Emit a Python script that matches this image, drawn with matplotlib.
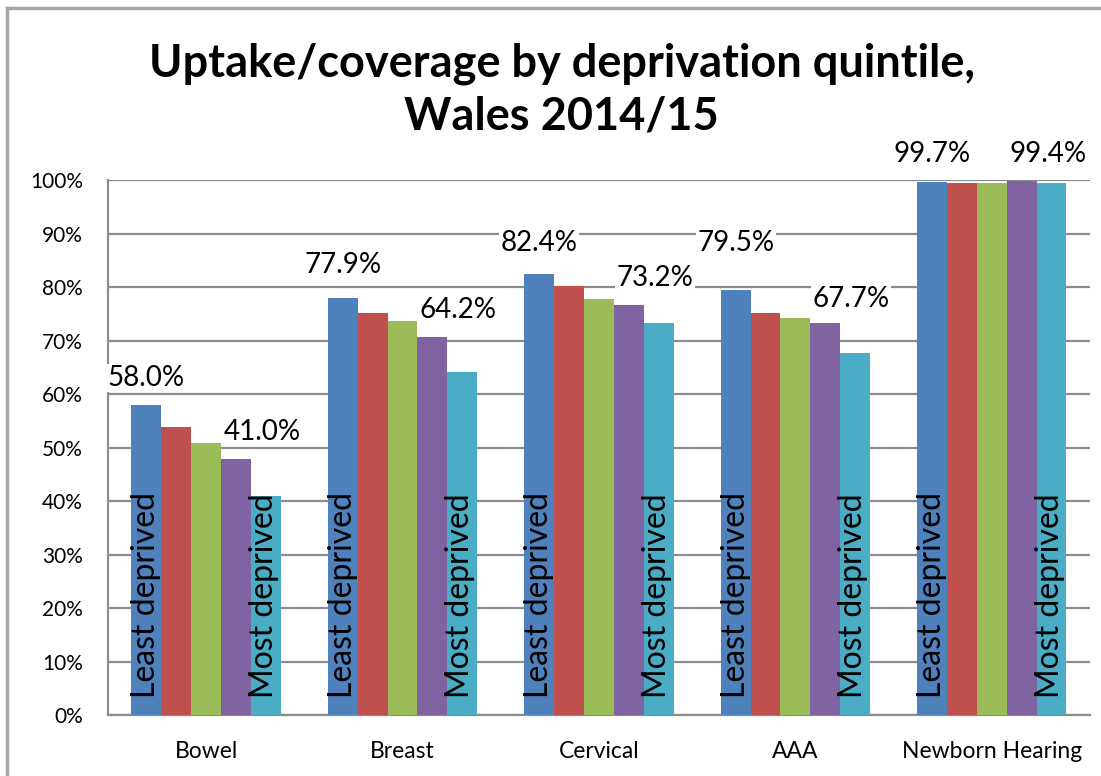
import numpy as np
import matplotlib.pyplot as plt
from matplotlib.lines import Line2D

plt.rcParams['font.family'] = ['Lato', 'DejaVu Sans']

categories = ['Bowel', 'Breast', 'Cervical', 'AAA', 'Newborn Hearing']
quintiles = ['Least deprived', 'Q2', 'Q3', 'Q4', 'Most deprived']
colors = ['#4F81BD', '#C0504D', '#9BBB59', '#8064A2', '#4BACC6']

# uptake (%) per quintile, one list per quintile across the 5 programmes
q1 = [58.0, 77.9, 82.4, 79.5, 99.7]
q2 = [53.8, 75.1, 80.1, 75.1, 99.5]
q3 = [50.8, 73.6, 77.8, 74.3, 99.5]
q4 = [47.9, 70.6, 76.6, 73.3, 99.8]
q5 = [41.0, 64.2, 73.2, 67.7, 99.4]
values = [q1, q2, q3, q4, q5]

# offsets of the value labels above the bars (percentage points)
off_least = [5.0, 6.2, 5.8, 8.8, 5.2]
off_most = [11.9, 11.5, 8.5, 10.1, 5.5]

fig = plt.figure(figsize=(11.01, 7.76), dpi=100)
ax = fig.add_axes([0.098, 0.0786, 0.892, 0.6894])

x = np.arange(len(categories))
w = 0.152
for i, vals in enumerate(values):
    ax.bar(x + (i - 2) * w, vals, width=w, color=colors[i], zorder=3)

# rotated labels inside first and last bar
for j in range(len(categories)):
    ax.text(x[j] - 2 * w, 3.2, 'Least deprived', rotation=90, ha='center', va='bottom',
            fontsize=23, color='black', zorder=4)
    ax.text(x[j] + 2 * w - 0.01, 3.2, 'Most deprived', rotation=90, ha='center', va='bottom',
            fontsize=23, color='black', zorder=4)
    ax.text(x[j] - 2 * w, q1[j] + off_least[j], f'{q1[j]:.1f}%', ha='center', va='center',
            fontsize=20, zorder=5, clip_on=False,
            bbox=dict(facecolor='white', edgecolor='none', pad=1))
    ax.text(x[j] + 2 * w - 0.02, q5[j] + off_most[j], f'{q5[j]:.1f}%', ha='center', va='center',
            fontsize=20, zorder=5, clip_on=False,
            bbox=dict(facecolor='white', edgecolor='none', pad=1))

ax.set_xlim(-0.5, 4.5)
ax.set_ylim(0, 100)
ax.set_yticks(np.arange(0, 101, 10))
ax.set_yticklabels([f'{v}%' for v in range(0, 101, 10)], fontsize=15)
ax.set_xticks(x)
ax.set_xticklabels(categories, fontsize=16.5)
ax.tick_params(length=0, pad=19, axis='x')
ax.tick_params(length=0, pad=18, axis='y')
ax.grid(axis='y', color='#8C8C8C', linewidth=1.6, zorder=0)
for s in ['top', 'right']:
    ax.spines[s].set_visible(False)
for s in ['left', 'bottom']:
    ax.spines[s].set_color('#8C8C8C')
    ax.spines[s].set_linewidth(1.6)

fig.text(0.51, 0.884, 'Uptake/coverage by deprivation quintile,\nWales 2014/15',
         ha='center', va='center', fontsize=32.5, fontweight='bold', linespacing=1.3)

# chart border (left and top visible)
fig.add_artist(Line2D([7 / 1101, 7 / 1101], [0, 1 - 8 / 776], color='#A6A6A6', linewidth=2.5))
fig.add_artist(Line2D([7 / 1101, 1], [1 - 8 / 776, 1 - 8 / 776], color='#A6A6A6', linewidth=2.5))

fig.savefig('out.png', dpi=100)
